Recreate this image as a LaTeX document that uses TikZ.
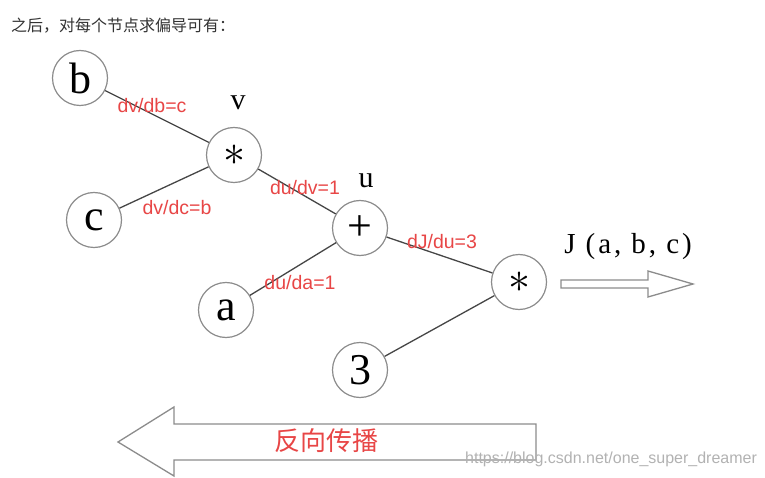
\RequirePackage{fix-cm}
\documentclass[tikz,border=0pt]{standalone}
\usepackage{fontspec}
\setmainfont{Liberation Serif}
\newfontfamily\cjk{Noto Sans CJK SC}
\newfontfamily\labfont{Liberation Sans}
\newfontfamily\jfont[LetterSpace=10]{Liberation Serif}
\definecolor{lred}{RGB}{232,70,70}
\definecolor{cgray}{RGB}{140,140,140}
\definecolor{egray}{RGB}{70,70,70}
\begin{document}
\begin{tikzpicture}[x=1pt,y=-1pt,
  vnode/.style={circle,draw=cgray,line width=1.2pt,minimum size=55pt,inner sep=0pt,font=\fontsize{44}{44}\selectfont},
  edge/.style={draw=egray,line width=1.3pt},
  glab/.style={text=lred,font=\labfont\fontsize{19.5}{19.5}\selectfont,inner sep=0pt},
  vlab/.style={font=\fontsize{30}{30}\selectfont,inner sep=0pt},
  bigarrow/.style={draw=cgray,line width=1.3pt,fill=white,line join=miter}]
\useasboundingbox (0,0) rectangle (765,478);
\fill[white] (0,0) rectangle (765,478);

\node[anchor=west,inner sep=0pt,text=black!80,font=\cjk\fontsize{16}{16}\selectfont] (title) at (11,26) {之后，对每个节点求偏导可有：};

\node[vnode] (b) at (80,78) {b};
\node[vnode] (v) at (234,155) {$\ast$};
\node[vnode] (c) at (94,220) {c};
\node[vnode] (u) at (360,228) {+};
\node[vnode] (a) at (226,310) {a};
\node[vnode] (m) at (519,282) {$\ast$};
\node[vnode] (t) at (360,370) {3};

\node[vlab] (vl) at (238,103) {v};
\node[vlab] (ul) at (366,181) {u};

\draw[edge] (b) -- (v);
\draw[edge] (c) -- (v);
\draw[edge] (v) -- (u);
\draw[edge] (a) -- (u);
\draw[edge] (u) -- (m);
\draw[edge] (t) -- (m);

\node[glab] (l1) at (152,106) {dv/db=c};
\node[glab] (l2) at (177,208) {dv/dc=b};
\node[glab] (l3) at (305,188) {du/dv=1};
\node[glab] (l4) at (300,283) {du/da=1};
\node[glab] (l5) at (442,242) {dJ/du=3};

\node[inner sep=0pt,font=\jfont\fontsize{29}{29}\selectfont] (J) at (628,247) {J (a, b, c)};

\draw[bigarrow] (561,280) -- (648,280) -- (648,271) -- (693,284) -- (648,297) -- (648,288) -- (561,288) -- cycle;

\draw[bigarrow] (536,424) -- (174,424) -- (174,407) -- (118,442) -- (174,476) -- (174,460) -- (536,460) -- cycle;
\node[inner sep=0pt,text=lred,font=\cjk\fontsize{26}{26}\selectfont] (bp) at (326,441) {反向传播};

\node[anchor=base west,inner sep=0pt,text=black!30,font=\labfont\fontsize{16}{16}\selectfont] (wm) at (465,463) {https://blog.csdn.net/one\_super\_dreamer};
\end{tikzpicture}
\end{document}
